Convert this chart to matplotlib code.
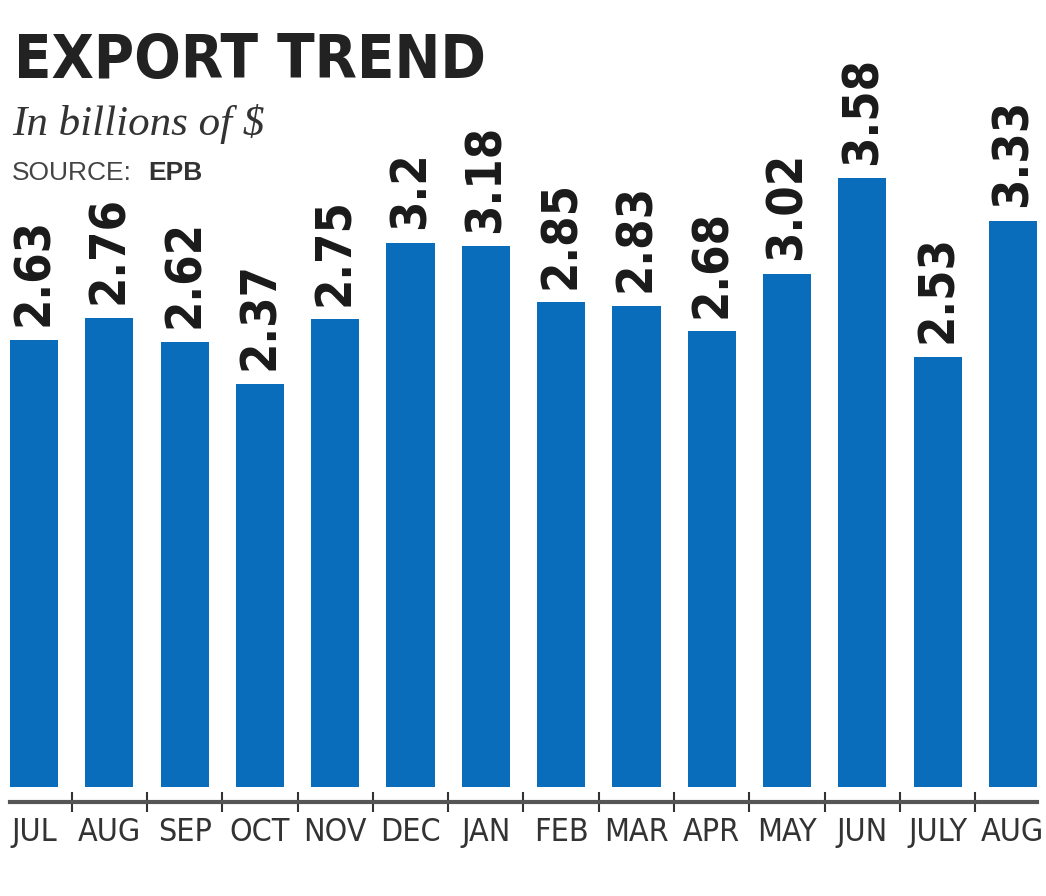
import matplotlib
matplotlib.use("Agg")
import matplotlib.pyplot as plt
from matplotlib import font_manager
import numpy as np

months = ["JUL", "AUG", "SEP", "OCT", "NOV", "DEC", "JAN",
          "FEB", "MAR", "APR", "MAY", "JUN", "JULY", "AUG"]
exports = [2.63, 2.76, 2.62, 2.37, 2.75, 3.2, 3.18,
           2.85, 2.83, 2.68, 3.02, 3.58, 2.53, 3.33]
value_labels = ["2.63", "2.76", "2.62", "2.37", "2.75", "3.2", "3.18",
                "2.85", "2.83", "2.68", "3.02", "3.58", "2.53", "3.33"]

# pick a narrow face if one is installed
_names = {f.name for f in font_manager.fontManager.ttflist}
NARROW = "Liberation Sans Narrow" if "Liberation Sans Narrow" in _names else "DejaVu Sans"
SERIF = "Liberation Serif" if "Liberation Serif" in _names else "DejaVu Serif"
SANS = "Liberation Sans" if "Liberation Sans" in _names else "DejaVu Sans"

W, H = 1046, 896
BAR_COLOR = "#0a6dbb"

fig = plt.figure(figsize=(W / 100, H / 100), dpi=100)
fig.patch.set_facecolor("white")


def fx(px):
    return px / W


def fy(py):
    return 1 - py / H


# axes: spine at y=802px, top at 100px, zero at 787px (170 px per unit)
ax = fig.add_axes([fx(10), fy(802), fx(1027), (802 - 100) / H])
x = np.arange(len(months))
ax.bar(x, exports, width=0.64, color=BAR_COLOR, zorder=2)
ax.set_xlim(-0.32, 13.32)
ax.set_ylim(-15 / 170, 687 / 170)

for xi, v, lab in zip(x, exports, value_labels):
    ax.annotate(lab, (xi, v), xytext=(0, 10), textcoords="offset points",
                rotation=90, ha="center", va="bottom",
                fontsize=35, fontweight="bold", family=NARROW,
                stretch="condensed", color="#1a1a1a")

for s in ["top", "left", "right"]:
    ax.spines[s].set_visible(False)
ax.spines["bottom"].set_linewidth(3)
ax.spines["bottom"].set_color("#555555")
ax.set_yticks([])
ax.set_xticks(x)
ax.set_xticklabels(months, family=NARROW, fontsize=23, color="#333333",
                   stretch="condensed")
ax.tick_params(axis="x", which="major", length=0, pad=11)
ax.set_xticks(x[:-1] + 0.5, minor=True)
ax.tick_params(axis="x", which="minor", direction="inout", length=15,
               width=1.5, color="#333333")

# header
fig.text(fx(14), fy(78), "EXPORT TREND", family=NARROW, fontweight="bold",
         stretch="condensed", fontsize=44, color="#222222", va="baseline")
fig.text(fx(12), fy(135), "In billions of $", family=SERIF, style="italic",
         fontsize=31, color="#333333", va="baseline")
fig.text(fx(12), fy(180), "SOURCE:", family=SANS, fontsize=19,
         color="#444444", va="baseline")
fig.text(fx(148), fy(180), "EPB", family=SANS, fontsize=19,
         fontweight="bold", color="#333333", va="baseline")

fig.savefig("out.png", dpi=100, facecolor="white")
